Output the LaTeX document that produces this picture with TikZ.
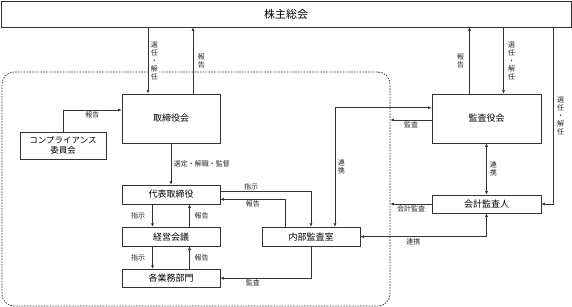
\documentclass[tikz,border=0pt]{standalone}
\usepackage{fontspec}
\setmainfont{Noto Sans CJK JP}
\usepackage{tikz}
\usetikzlibrary{shapes,arrows,arrows.meta,positioning,calc}
\tikzset{
  kbox/.style={draw=black!80, line width=0.7pt, inner sep=0pt, align=center, font=\fontsize{9}{11}\selectfont},
  arr/.style={draw=black!80, line width=0.6pt, -{Latex[length=3.5pt,width=3pt]}},
  arrs/.style={draw=black!80, line width=0.6pt, {Latex[length=3.5pt,width=3pt]}-{Latex[length=3.5pt,width=3pt]}},
  lbl/.style={font=\fontsize{7}{8}\selectfont, inner sep=1.5pt, text=black!85},
  tate/.style={lbl, align=center, fill=white},
  grp/.style={draw=black!80, line width=0.7pt, dash pattern=on 1.6pt off 1.2pt, rounded corners=12pt, inner sep=0pt}
}

\begin{document}
\begin{tikzpicture}[x=1pt,y=-1pt]
  \useasboundingbox (0,0) rectangle (572,307);
  % 点線枠
  \node[grp, minimum width=388, minimum height=234] (group) at (196,189) {};
  % 株主総会
  \node[kbox, minimum width=570, minimum height=26, font=\fontsize{11}{13}\selectfont] (kabu) at (286,14) {株主総会};
  % 取締役会側
  \node[kbox, minimum width=98, minimum height=49] (tori) at (171,118.5) {取締役会};
  \node[kbox, minimum width=86, minimum height=27, font=\fontsize{8.5}{10}\selectfont] (comp) at (63,145.5) {コンプライアンス\\委員会};
  \node[kbox, minimum width=98, minimum height=19] (daihyo) at (171,194.5) {代表取締役};
  \node[kbox, minimum width=98, minimum height=19] (keiei) at (171,236.7) {経営会議};
  \node[kbox, minimum width=98, minimum height=18] (kakugyo) at (171,278.2) {各業務部門};
  \node[kbox, minimum width=98, minimum height=19] (naibu) at (311,236.7) {内部監査室};
  % 監査役会側
  \node[kbox, minimum width=109, minimum height=49] (kansa) at (486.5,118.5) {監査役会};
  \node[kbox, minimum width=109, minimum height=18] (kaikei) at (486.5,204) {会計監査人};

  % 株主総会 - 取締役会
  \coordinate (t1) at ([xshift=-23pt]tori.north);
  \coordinate (t2) at ([xshift=22pt]tori.north);
  \draw[arr] (kabu.south -| t1) -- (t1) node[tate, midway, right=1pt] (l1) {選\\任\\・\\解\\任};
  \draw[arr] (t2) -- (kabu.south -| t2) node[lbl, align=center, midway, right=3pt] (l2) {報\\告};
  \draw[arr] (comp.north) |- ([yshift=8.5pt]tori.west) node[lbl, pos=0.75, below] (l3) {報告};
  \draw[arr] (tori.south) -- (daihyo.north) node[lbl, midway, right=1pt] (l4) {選定・解職・監督};
  % 代表取締役 - 経営会議 - 各業務部門
  \foreach \a/\b [count=\i] in {daihyo/keiei, keiei/kakugyo} {
    \draw[arr] ([xshift=-18.5pt]\a.south) -- ([xshift=-18.5pt]\b.north) node[lbl, midway, left=5.5pt] (s\i) {指示};
    \draw[arr] ([xshift=18.5pt]\b.north) -- ([xshift=18.5pt]\a.south) node[lbl, midway, right=3.2pt] (r\i) {報告};
  }
  % 内部監査室
  \draw[arr] ([yshift=2.8pt]daihyo.east) -| (naibu.north) node[lbl, pos=0.17, above] (l5) {指示};
  \draw[arr] ([xshift=-25.5pt]naibu.north) |- ([yshift=-4.8pt]daihyo.east) node[lbl, pos=0.75, below] (l6) {報告};
  \draw[arr] (naibu.south) |- (kakugyo.east) node[lbl, pos=0.82, below] (l7) {監査};
  \draw[arrs] ([yshift=10.8pt]kansa.west) -| ([xshift=24pt]naibu.north) node[lbl, align=center, pos=0.75, right=1pt] (l8) {連\\携};
  % 監査役会
  \coordinate (k1) at ([xshift=-17pt]kansa.north);
  \coordinate (k2) at ([xshift=17pt]kansa.north);
  \coordinate (k3) at ([yshift=-1.5pt]kansa.west);
  \draw[arr] (k1) -- (kabu.south -| k1) node[lbl, align=center, midway, left=3.5pt] (l9) {報\\告};
  \draw[arr] (kabu.south -| k2) -- (k2) node[tate, midway, right=2.7pt] (l10) {選\\任\\・\\解\\任};
  \draw[arr] (k3) -- (group.east |- k3) node[lbl, midway, below] (l11) {監査};
  \draw[arrs] (kansa.south) -- (kaikei.north) node[lbl, align=center, midway, right=1.5pt] (l12) {連\\携};
  % 会計監査人
  \coordinate (k4) at ([xshift=12pt]kaikei.east);
  \draw[arr] (kabu.south -| k4) |- (kaikei.east) node[lbl, align=center, pos=0.25, right=2pt] (l13) {選\\任\\・\\解\\任};
  \draw[arr] (kaikei.west) -- (group.east |- kaikei.west) node[lbl, midway, below] (l14) {会計監査};
  \draw[arrs] (kaikei.south) |- (naibu.east) node[lbl, pos=0.79, below] (l15) {連携};
\end{tikzpicture}
\end{document}
